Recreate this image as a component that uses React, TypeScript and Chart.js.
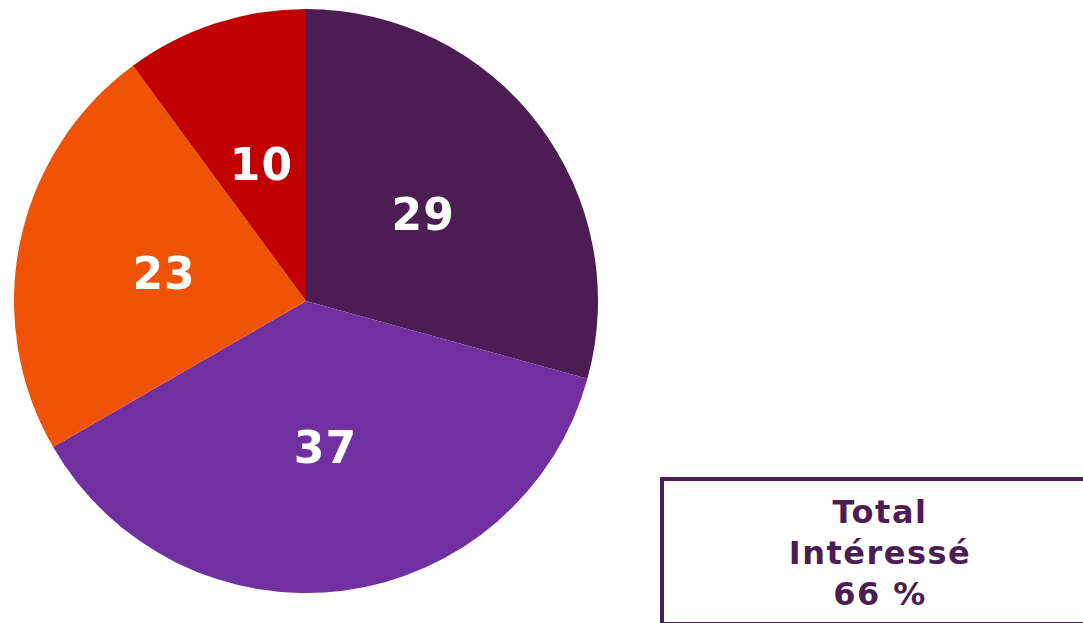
import React, { useEffect, useRef } from "react";
import { Chart, registerables } from "chart.js";

Chart.register(...registerables);

const categories = ["A", "B", "C", "D"];
const values = [29, 37, 23, 10];
const colors = ["#4C1D52", "#7030A0", "#F05206", "#C00000"];
const totalLines = ["Total", "Intéressé", "66 %"];

const labelPlugin = {
  id: "sliceLabels",
  afterDatasetsDraw(chart: any) {
    const ctx = chart.ctx;
    const meta = chart.getDatasetMeta(0);
    ctx.save();
    ctx.fillStyle = "#FFFFFF";
    ctx.font = "bold 44px 'DejaVu Sans'";
    (ctx as any).letterSpacing = "1px";
    ctx.textAlign = "center";
    ctx.textBaseline = "middle";
    meta.data.forEach((arc: any, i: number) => {
      const { startAngle, endAngle, outerRadius, x, y } = arc.getProps(
        ["startAngle", "endAngle", "outerRadius", "x", "y"],
        true
      );
      const mid = (startAngle + endAngle) / 2;
      const r = outerRadius * 0.5;
      ctx.fillText(String(values[i]), x + Math.cos(mid) * r + 1, y + Math.sin(mid) * r + 6);
    });
    ctx.restore();
  },
};

export default function App() {
  const ref = useRef<HTMLCanvasElement>(null);
  useEffect(() => {
    if (!ref.current) return;
    const chart = new Chart(ref.current, {
      type: "pie",
      data: {
        labels: categories,
        datasets: [
          {
            data: values,
            backgroundColor: colors,
            borderWidth: 0,
          },
        ],
      },
      options: {
        responsive: false,
        animation: false,
        layout: { padding: 0 },
        plugins: {
          legend: { display: false },
          tooltip: { enabled: false },
        },
      },
      plugins: [labelPlugin],
    });
    return () => chart.destroy();
  }, []);

  return (
    <div style={{ position: "fixed", left: 0, top: 0, width: 1083, height: 623, background: "#fff", overflow: "hidden" }}>
      <canvas
        ref={ref}
        width={584}
        height={584}
        style={{ position: "absolute", left: 14, top: 9, width: 584, height: 584 }}
      />
      <div
        style={{
          position: "absolute",
          left: 660,
          top: 477,
          width: 440,
          height: 141,
          borderLeft: "4px solid #4C1D52",
          borderTop: "4px solid #4C1D52",
          borderBottom: "2px solid #4C1D52",
          boxSizing: "content-box",
        }}
      />
      <div
        style={{
          position: "absolute",
          left: 660,
          top: 492,
          width: 440,
          textAlign: "center",
          color: "#4C1D52",
          fontFamily: "'DejaVu Sans'",
          fontWeight: "bold",
          fontSize: 32,
          letterSpacing: 1.5,
          lineHeight: "41px",
        }}
      >
        {totalLines.map((t, i) => (
          <div key={i}>{t}</div>
        ))}
      </div>
    </div>
  );
}
